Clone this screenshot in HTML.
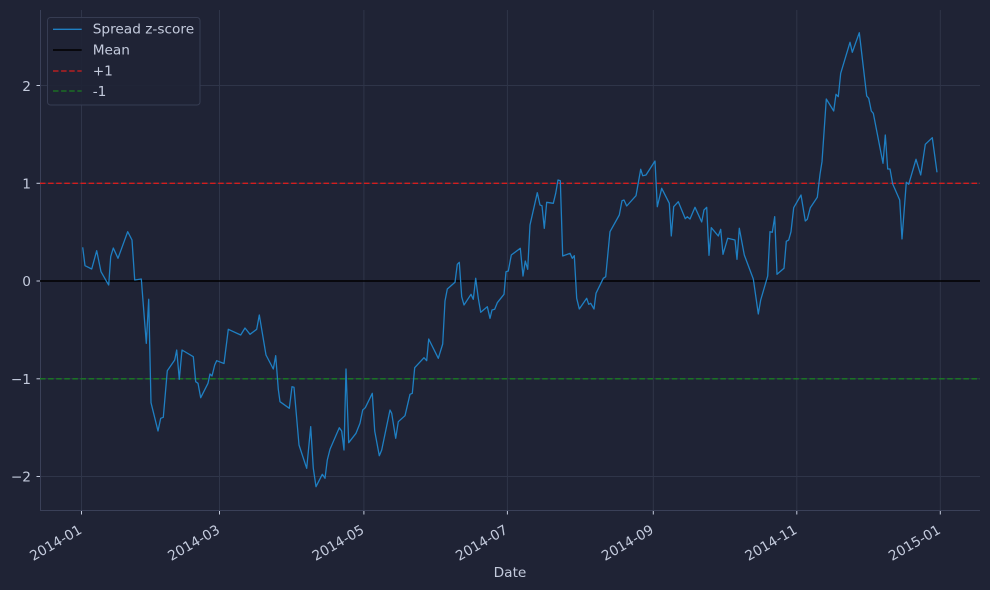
<!DOCTYPE html>
<html><head><meta charset="utf-8"><style>
html,body{margin:0;padding:0;background:#1f2335;}
svg{display:block;}
text{font-family:"DejaVu Sans","Liberation Sans",sans-serif;fill:#c3cadc;}
</style></head><body>
<svg width="990" height="590" viewBox="0 0 990 590" xmlns="http://www.w3.org/2000/svg">
<rect x="0" y="0" width="990" height="590" fill="#1f2335"/>
<!-- grid -->
<g stroke="#2f3549" stroke-width="1">
<line x1="81.5" y1="10" x2="81.5" y2="510"/>
<line x1="219.5" y1="10" x2="219.5" y2="510"/>
<line x1="363.9" y1="10" x2="363.9" y2="510"/>
<line x1="507.4" y1="10" x2="507.4" y2="510"/>
<line x1="653.3" y1="10" x2="653.3" y2="510"/>
<line x1="796.8" y1="10" x2="796.8" y2="510"/>
<line x1="940.3" y1="10" x2="940.3" y2="510"/>
<line x1="40" y1="85.5" x2="980" y2="85.5"/>
<line x1="40" y1="183.3" x2="980" y2="183.3"/>
<line x1="40" y1="378.8" x2="980" y2="378.8"/>
<line x1="40" y1="476.5" x2="980" y2="476.5"/>
</g>
<!-- spines -->
<g stroke="#3a4058" stroke-width="1">
<line x1="40.5" y1="10" x2="40.5" y2="511"/>
<line x1="40" y1="510.5" x2="980" y2="510.5"/>
</g>
<!-- ticks -->
<g stroke="#c3cadc" stroke-width="1">
<line x1="81.5" y1="511" x2="81.5" y2="514.5"/>
<line x1="219.5" y1="511" x2="219.5" y2="514.5"/>
<line x1="363.9" y1="511" x2="363.9" y2="514.5"/>
<line x1="507.4" y1="511" x2="507.4" y2="514.5"/>
<line x1="653.3" y1="511" x2="653.3" y2="514.5"/>
<line x1="796.8" y1="511" x2="796.8" y2="514.5"/>
<line x1="940.3" y1="511" x2="940.3" y2="514.5"/>
<line x1="36.5" y1="85.5" x2="40" y2="85.5"/>
<line x1="36.5" y1="183.3" x2="40" y2="183.3"/>
<line x1="36.5" y1="281" x2="40" y2="281"/>
<line x1="36.5" y1="378.8" x2="40" y2="378.8"/>
<line x1="36.5" y1="476.5" x2="40" y2="476.5"/>
</g>
<!-- y tick labels -->
<g font-size="13.7" text-anchor="end">
<text x="31" y="91">2</text>
<text x="31" y="188.5">1</text>
<text x="31" y="286">0</text>
<text x="31" y="384">−1</text>
<text x="31" y="481.5">−2</text>
</g>
<!-- x tick labels -->
<g font-size="13.7" text-anchor="end">
<text transform="translate(82.8,532.5) rotate(-30)">2014-01</text>
<text transform="translate(220.8,532.5) rotate(-30)">2014-03</text>
<text transform="translate(365.2,532.5) rotate(-30)">2014-05</text>
<text transform="translate(508.7,532.5) rotate(-30)">2014-07</text>
<text transform="translate(654.6,532.5) rotate(-30)">2014-09</text>
<text transform="translate(798.1,532.5) rotate(-30)">2014-11</text>
<text transform="translate(941.6,532.5) rotate(-30)">2015-01</text>
</g>
<text x="510" y="577" font-size="13.7" text-anchor="middle">Date</text>
<!-- reference lines -->
<line x1="40" y1="183.3" x2="980" y2="183.3" stroke="#d41e1e" stroke-width="1.3" stroke-dasharray="5.5,2.6"/>
<line x1="40" y1="378.8" x2="980" y2="378.8" stroke="#1a7d22" stroke-width="1.3" stroke-dasharray="5.5,2.6"/>
<line x1="40" y1="281" x2="980" y2="281" stroke="#000000" stroke-width="1.4"/>
<!-- series -->
<polyline fill="none" stroke="#1f7fc2" stroke-width="1.3" stroke-linejoin="round" points="
82.7,247.3 85,265.7 91.7,269 96.7,250.7 101,271.7 106.7,281.7 108.7,285 110.7,256.7 113.3,248 118,258.3
127.7,231.7 132,240 134.7,280 141.3,279 146.3,343.3 148.7,299.3 151,402.7 158,431 160.7,418.3 163.3,417.3
167.3,370.7 174.7,360 176.7,350 179.3,379.3 182,350 193.3,356.7 195.7,381.7 198,383.3 200.7,397.7 208,383.3
210,374 212,376 214.7,365 216.7,360.7 224,363.5 228.3,329.3 240.7,335 245,328 250,334.3 256.7,329.3
259.3,315 266,355 273.3,369 275.7,355.7 278.3,389.3 280,401.7 289.3,408.3 292,386.7 294,387.3 299,445
306.7,468.3 310.7,426.7 313.3,468.3 316,486.7 322.3,474.3 325,478.3 327.3,460 330,449.3 339.3,427.7 341.7,431
344,450 346,369 348.7,442.7 356,433.3 360,423.3 362.7,410 365.3,407.7 372.3,393.3 374.7,431 379.3,455.7
381.7,450 390,410 391.7,413.3 395.7,438.3 398.3,421.7 405,415.7 410,394.3 412.3,393.3 414.7,367.7 424,357.7
426.7,360.7 428.7,339 438.3,358.3 442.7,344 445,301 447.3,289 455,282.3 457.3,264.3 459.3,262.3 461.7,296.7
464,305 471,294.3 473.3,299.3 475.7,278.3 478.3,298.3 480.7,312.3 487.3,306.7 490,318.3 492,310 494.7,309.3
497.3,302.7 504,294.3 506,271.7 508.3,271 511.3,255 520.3,248.3 523,276 525.3,261 527.7,269.3 530,225
537.3,192.7 540,205 542,205.7 544.3,228.3 546.7,202.3 553.3,203.3 555.7,193.3 558,180 560.3,180.7 562.7,256
570,253.3 572.3,258.3 574.3,255.7 576.7,298.3 579.3,309 586.7,298.3 588.7,304.3 590.7,303.3 594,309 596,293.3
603.3,278.3 605.7,276.7 610,231.7 619.3,215 622,200.7 624,200 626.7,206 636,195.7 640.7,169.3 642.7,175.7
646,175 655,161 657.3,206.7 661.7,188.3 669.3,203.3 671.3,236 673.7,206.7 678.3,201.7 685.3,218.7 687.3,216.7
690,219 695,207.3 701.7,222 704,210 706.7,207.3 709,255.3 711.3,227.7 718.3,236 720.7,229.3 723,254.3
727.7,238.3 735,240 737,259.3 739.3,228.3 744.3,255 753.3,279 758.3,314 760.7,300 767.7,276 770,231.7
772.3,232.3 774.7,216.7 777,274.3 784,268.3 786.3,241.3 788.7,240 791,231.7 793.7,207.7 801,195 805.3,221
807.3,219.3 810.3,207.7 817.3,197.3 820,174.3 822,161.7 826.3,99 833.7,111 836,94.3 838.3,96.7 840.7,73.3
850,42.3 852.3,52.3 859.3,32.7 866.7,96 868.7,98.3 871.3,111 873.3,113.3 883,163.3 885.3,135 887.7,169
890,169 892.7,184 899.7,200 902,239 906.3,182.3 908.7,184.3 916,159.3 920.7,175 925.3,144.3 932.3,137.7 937,172.3"/>
<!-- legend -->
<rect x="47.5" y="17.5" width="152.5" height="87.5" rx="3" ry="3" fill="#1f2335" fill-opacity="0.9" stroke="#363c52" stroke-width="1"/>
<line x1="53" y1="29.3" x2="81.7" y2="29.3" stroke="#1f7fc2" stroke-width="1.3"/>
<line x1="53" y1="50" x2="81.7" y2="50" stroke="#000000" stroke-width="1.4"/>
<line x1="53" y1="71" x2="81.7" y2="71" stroke="#d41e1e" stroke-width="1.3" stroke-dasharray="5.5,2.6"/>
<line x1="53" y1="91" x2="81.7" y2="91" stroke="#1a7d22" stroke-width="1.3" stroke-dasharray="5.5,2.6"/>
<g font-size="13.7">
<text x="92.7" y="33.5">Spread z-score</text>
<text x="92.7" y="54.3">Mean</text>
<text x="92.7" y="75.3">+1</text>
<text x="92.7" y="96">-1</text>
</g>
</svg>
</body></html>
